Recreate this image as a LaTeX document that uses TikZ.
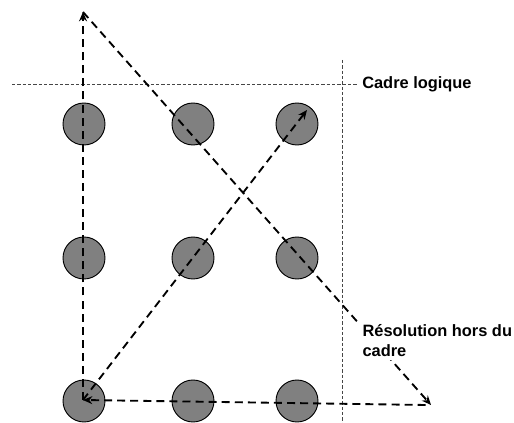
\documentclass[tikz,border=0pt]{standalone}
\usepackage{fontspec}
\setmainfont{Liberation Sans}
\usetikzlibrary{arrows.meta}
\begin{document}
\begin{tikzpicture}[x=0.75pt,y=-0.75pt,
  dot/.style={circle,draw=black,line width=0.7pt,fill={rgb,255:red,128;green,128;blue,128},minimum size=31.5pt,inner sep=0pt},
  frameline/.style={draw={rgb,255:red,70;green,70;blue,70},line width=0.6pt,dash pattern=on 2.4pt off 1.6pt},
  pathline/.style={draw=black,line width=1.4pt,dash pattern=on 6pt off 3.8pt,-{Stealth[length=7pt,width=6pt]}},
  lbl/.style={font=\bfseries\fontsize{12.3}{15}\selectfont,align=left}
]
\useasboundingbox (0,0) rectangle (514,423);
% circles
\node[dot] (c11) at (84,124) {};
\node[dot] (c12) at (193,124) {};
\node[dot] (c13) at (297,124) {};
\node[dot] (c21) at (84,258) {};
\node[dot] (c22) at (193,258) {};
\node[dot] (c23) at (297,258) {};
\node[dot] (c31) at (84,401) {};
\node[dot] (c32) at (193,401) {};
\node[dot] (c33) at (297,401) {};
% frame
\node[lbl,anchor=west,inner sep=0pt] (cadre) at (362,84) {Cadre logique};
\coordinate (hl) at (12,84);
\coordinate (vt) at (342,60);
\coordinate (vb) at (342,423);
\draw[frameline] (hl) -- ([xshift=-3pt]cadre.west);
\draw[frameline] (vt) -- (vb);
% path
\coordinate (top) at (83,12);
\coordinate (endR) at (431,405);
\coordinate (tr) at (307,110);
\coordinate (s31) at (83,400);
\draw[pathline] (s31) -- (top);
\draw[pathline] (top) -- (endR);
\draw[pathline] ([xshift=-4pt]endR) -- (s31);
\draw[pathline] (s31) -- (tr);
\node[lbl,anchor=base west,fill=white,inner sep=2.5pt] (reso) at (359,357) {Résolution hors du\\cadre};
\end{tikzpicture}
\end{document}
